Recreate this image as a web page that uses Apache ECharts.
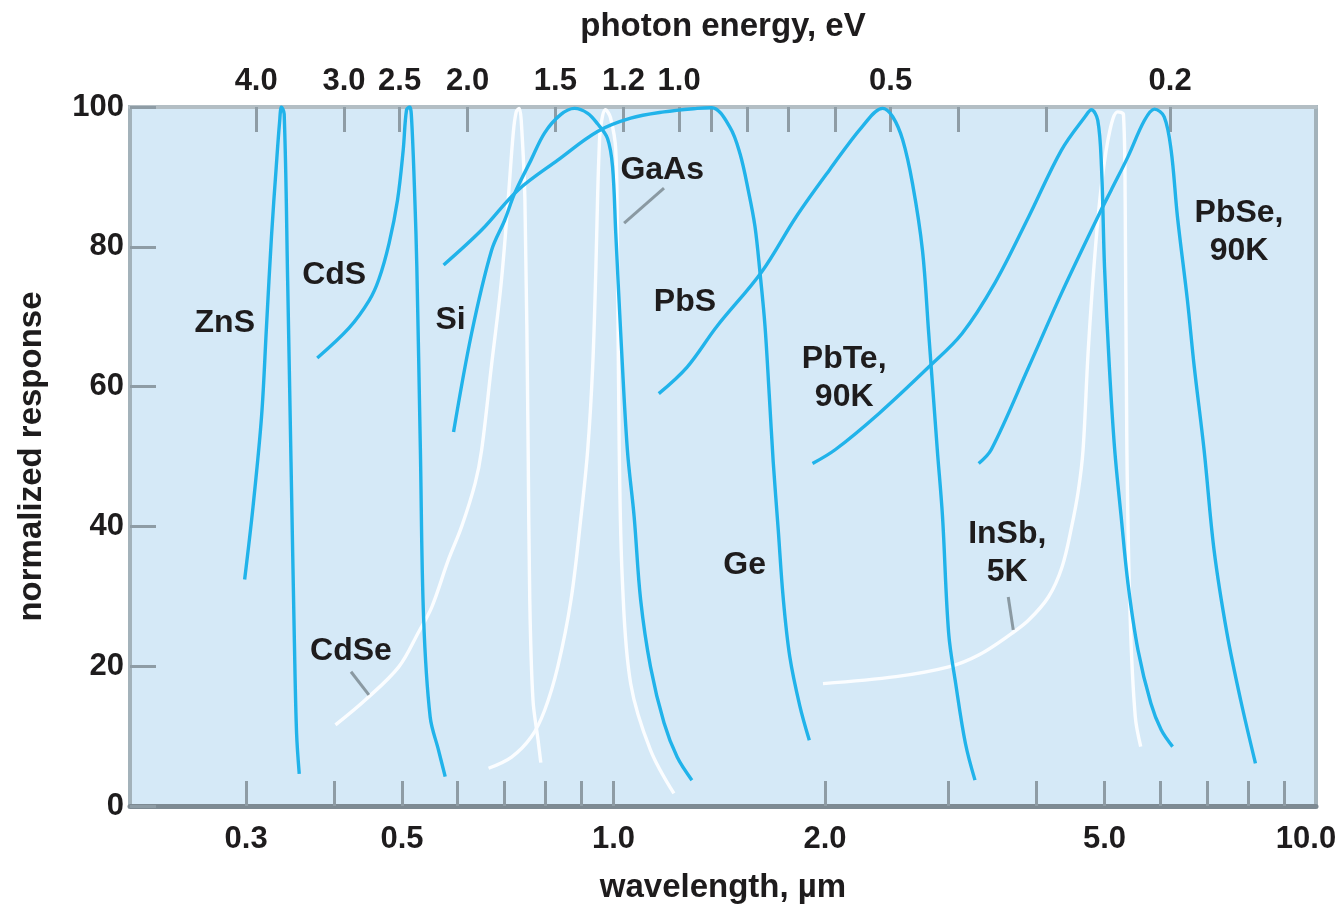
<!DOCTYPE html>
<html>
<head>
<meta charset="utf-8">
<title>Photodetector spectral response</title>
<script src="https://cdn.jsdelivr.net/npm/echarts@6.0.0/dist/echarts.min.js"></script>
<style>
html,body{margin:0;padding:0;background:#fff;}
#chart{width:1343px;height:908px;}
</style>
</head>
<body>
<div id="chart"></div>
<script>
// photon energy (eV) = hc / wavelength (um)
var hc = 1.24;

// axis ticks
var waveTicks = [0.3, 0.4, 0.5, 0.6, 0.7, 0.8, 0.9, 1, 2, 3, 4, 5, 6, 7, 8, 9];
var waveLabels = [0.3, 0.5, 1, 2, 5, 10];
var energyTicks = [4, 3, 2.5, 2, 1.5, 1.2, 1, 0.9, 0.8, 0.7, 0.6, 0.5, 0.4, 0.3, 0.2];
var energyLabels = [4, 3, 2.5, 2, 1.5, 1.2, 1, 0.5, 0.2];

// blue curves (wavelength um / normalized response)
var znsWl = [0.2985, 0.3068, 0.3155, 0.3207, 0.326, 0.331, 0.3347, 0.3368, 0.3398, 0.3437, 0.3475, 0.3514, 0.3539, 0.357];
var znsResp = [32.4, 42.8, 55.7, 68.7, 81.6, 91.3, 97.8, 100, 99, 75.1, 49.2, 23.3, 10.4, 4.6];

var cdsWl = [0.3787, 0.4204, 0.4488, 0.4636, 0.4792, 0.4927, 0.5019, 0.5075, 0.5128, 0.5161, 0.5215, 0.5249, 0.531, 0.5366, 0.5484, 0.5635, 0.576];
var cdsResp = [64.1, 68.4, 72.3, 75.4, 80.5, 86.7, 93.8, 99.6, 100, 98, 86.7, 77, 51, 27, 12.7, 8, 4.2];

var siWl = [0.592, 0.628, 0.6706, 0.70, 0.723, 0.763, 0.798, 0.841, 0.88, 0.919, 0.949, 0.9806, 0.9968, 1.0075, 1.024, 1.0466, 1.07, 1.093, 1.129, 1.18, 1.232, 1.293];
var siResp = [53.5, 67.6, 79.5, 83.8, 87.6, 92.4, 96.3, 98.9, 99.8, 99.1, 97.6, 95.5, 91.5, 81.9, 67.6, 50.9, 41.4, 29.5, 19.9, 11.9, 7, 3.7];

var geWl = [0.573, 0.649, 0.731, 0.833, 0.949, 1.058, 1.18, 1.315, 1.38, 1.465, 1.514, 1.556, 1.59, 1.616, 1.643, 1.666, 1.688, 1.716, 1.744, 1.782, 1.842, 1.9];
var geResp = [77.4, 82.4, 88.1, 92.4, 96.5, 98.4, 99.3, 99.8, 99.9, 97.1, 93.3, 88, 82.9, 76.4, 68.7, 58.9, 49.2, 39.5, 29.8, 21.4, 14.3, 9.4];

var pbsWl = [1.16, 1.273, 1.403, 1.625, 1.82, 2.03, 2.26, 2.416, 2.497, 2.58, 2.665, 2.753, 2.81, 2.89, 2.94, 3.0, 3.07, 3.17, 3.27];
var pbsResp = [59, 62.8, 68.6, 76.4, 84.3, 91, 97.2, 99.8, 98.6, 95.3, 89, 79.5, 67.6, 51, 41.4, 24.7, 17.5, 8.9, 3.7];

var pbteWl = [1.92, 2.07, 2.39, 2.81, 3.135, 3.49, 3.9, 4.34, 4.69, 4.79, 4.89, 4.95, 5.0, 5.08, 5.17, 5.28, 5.40, 5.58, 5.82, 6.02, 6.25];
var pbteResp = [49, 51, 56.2, 62.8, 67.6, 74.8, 84.3, 93.8, 98.6, 99.6, 98.1, 91.5, 77.1, 62.8, 50.9, 41.4, 31.8, 22.3, 14.7, 10.9, 8.5];

var pbseWl = [3.31, 3.45, 3.9, 4.34, 4.92, 5.11, 5.40, 5.70, 5.89, 6.08, 6.22, 6.35, 6.56, 6.71, 6.93, 7.16, 7.47, 7.81, 8.2];
var pbseResp = [49, 51, 62.8, 73.3, 84.8, 88.1, 92.9, 98.1, 99.7, 98.6, 93.8, 84.3, 72.4, 62.8, 50.9, 36.6, 24.7, 15.2, 6.1];

// white curves
var cdseWl = [0.402, 0.4436, 0.4947, 0.528, 0.5514, 0.582, 0.608, 0.6355, 0.649, 0.67, 0.692, 0.708, 0.72, 0.727, 0.734, 0.739, 0.748, 0.756, 0.76, 0.768, 0.781, 0.788];
var cdseResp = [11.6, 15.2, 19.9, 24.9, 28.5, 35.2, 40, 46.2, 50.9, 62.8, 74.8, 86.7, 96.3, 99.3, 99.8, 98.1, 86.7, 51, 29.5, 15.2, 9.4, 6.2];

var gaasWl = [0.664, 0.716, 0.764, 0.798, 0.833, 0.87, 0.899, 0.919, 0.934, 0.944, 0.949, 0.954, 0.959, 0.974, 0.99, 1.0075, 1.013, 1.019, 1.03, 1.058, 1.129, 1.219];
var gaasResp = [5.4, 7, 9.9, 13.7, 19.9, 29.5, 41.4, 51, 62.8, 77.1, 86.7, 93.8, 97.2, 99.6, 98.5, 93.8, 79.5, 51, 31.8, 17.5, 8, 1.8];

var insbWl = [1.987, 2.524, 3.0, 3.31, 3.69, 3.9, 4.16, 4.35, 4.49, 4.59, 4.66, 4.74, 4.85, 4.96, 5.09, 5.22, 5.32, 5.35, 5.38, 5.44, 5.53, 5.63];
var insbResp = [17.5, 18.5, 19.9, 21.6, 24.7, 26.6, 29.9, 34.2, 40, 45.2, 50.9, 65.2, 79.5, 89.6, 96.7, 99.3, 98.9, 86.7, 51, 26.6, 12.8, 8.5];

// curve labels
var noteText = ['ZnS', 'CdS', 'Si', 'GaAs', 'PbS', 'PbTe,\n90K', 'PbSe,\n90K', 'Ge', 'InSb,\n5K', 'CdSe'];
var noteWl = [0.2797, 0.4003, 0.5861, 1.173, 1.264, 2.13, 7.77, 1.537, 3.635, 0.423];
var noteResp = [69.1, 76, 69.5, 91, 72.1, 61.2, 82.1, 34.5, 36.2, 22.2];

// leader lines from labels to curves
var leaderWl = [[0.423, 0.4485], [1.18, 1.0355], [3.647, 3.707]];
var leaderResp = [[19.2, 15.9], [88.4, 83.4], [29.9, 25.2]];

var blue = '#21b3ea';
var white = '#fbfdff';
var ink = '#1e1c1d';
var font = '"Liberation Sans", Arial, Helvetica, sans-serif';

function pairs(xs, ys) {
	return xs.map(function (x, i) { return [x, ys[i]]; });
}

var curves = [
	{ name: 'CdSe', wl: cdseWl, resp: cdseResp, color: white },
	{ name: 'GaAs', wl: gaasWl, resp: gaasResp, color: white },
	{ name: 'InSb', wl: insbWl, resp: insbResp, color: white },
	{ name: 'ZnS', wl: znsWl, resp: znsResp, color: blue },
	{ name: 'CdS', wl: cdsWl, resp: cdsResp, color: blue },
	{ name: 'Si', wl: siWl, resp: siResp, color: blue },
	{ name: 'Ge', wl: geWl, resp: geResp, color: blue },
	{ name: 'PbS', wl: pbsWl, resp: pbsResp, color: blue },
	{ name: 'PbTe', wl: pbteWl, resp: pbteResp, color: blue },
	{ name: 'PbSe', wl: pbseWl, resp: pbseResp, color: blue }
];

var series = curves.map(function (c) {
	return {
		type: 'line',
		name: c.name,
		data: pairs(c.wl, c.resp),
		showSymbol: false,
		smooth: 0.35,
		silent: true,
		z: c.color === blue ? 3 : 2,
		lineStyle: { color: c.color, width: 3.4 }
	};
});

leaderWl.forEach(function (xs, i) {
	series.push({
		type: 'line',
		data: pairs(xs, leaderResp[i]),
		showSymbol: false,
		silent: true,
		z: 4,
		lineStyle: { color: '#8a99a2', width: 3 }
	});
});

series.push({
	type: 'scatter',
	symbolSize: 0,
	silent: true,
	z: 5,
	itemStyle: { opacity: 1 },
	data: noteText.map(function (t, i) {
		return { name: t, value: [noteWl[i], noteResp[i]] };
	}),
	label: {
		show: true,
		position: 'inside',
		formatter: '{b}',
		fontFamily: font,
		fontSize: 32,
		fontWeight: 'bold',
		lineHeight: 38,
		color: ink,
		opacity: 1,
		textBorderWidth: 0
	}
});

var tickStyle = { color: '#8e9ca5', width: 3 };
var labelStyle = { fontFamily: font, fontSize: 31, fontWeight: 'bold', color: ink };
var nameStyle = { fontFamily: font, fontSize: 33, fontWeight: 'bold', color: ink };

var myChart = echarts.init(document.getElementById('chart'));
var option = {
	animation: false,
	backgroundColor: '#ffffff',
	grid: {
		left: 130, right: 27, top: 107, bottom: 102,
		containLabel: false,
		outerBoundsMode: 'none',
		show: true,
		backgroundColor: '#d5e9f7',
		borderColor: '#a3b2ba',
		borderWidth: 4
	},
	xAxis: [
		{
			type: 'log',
			logBase: 10,
			min: 0.205,
			max: 10,
			position: 'bottom',
			name: 'wavelength, \u00b5m',
			nameLocation: 'middle',
			nameGap: 65,
			nameTextStyle: nameStyle,
			axisLine: { lineStyle: { color: '#7d8a93', width: 5 } },
			axisTick: { inside: true, length: 25, lineStyle: tickStyle, customValues: waveTicks },
			minorTick: { show: false },
			splitLine: { show: false },
			axisLabel: Object.assign({
				customValues: waveLabels,
				margin: 18,
				formatter: function (v) {
					var s = (+v).toFixed(1);
					// last label sits at the frame edge, nudged left as in the original
					return v >= 9.99 ? '{edge|' + s + '}' : s;
				},
				rich: { edge: Object.assign({ padding: [0, 20, 0, 0] }, labelStyle) }
			}, labelStyle)
		},
		{
			type: 'log',
			logBase: 10,
			min: 0.205,
			max: 10,
			position: 'top',
			name: 'photon energy, eV',
			nameLocation: 'middle',
			nameGap: 64,
			nameTextStyle: nameStyle,
			axisLine: { lineStyle: { color: '#b3bec4', width: 4 } },
			axisTick: {
				inside: true, length: 25, lineStyle: tickStyle,
				customValues: energyTicks.map(function (e) { return hc / e; })
			},
			minorTick: { show: false },
			splitLine: { show: false },
			axisLabel: Object.assign({
				customValues: energyLabels.map(function (e) { return hc / e; }),
				margin: 10,
				formatter: function (v) { return (hc / v).toFixed(1); }
			}, labelStyle)
		}
	],
	yAxis: {
		type: 'value',
		min: 0,
		max: 100,
		interval: 20,
		name: 'normalized response',
		nameLocation: 'middle',
		nameGap: 82,
		nameRotate: 90,
		nameTextStyle: nameStyle,
		axisLine: { show: true, lineStyle: { color: '#a3b2ba', width: 4 } },
		axisTick: { inside: true, length: 26, lineStyle: tickStyle },
		splitLine: { show: false },
		axisLabel: Object.assign({ margin: 6 }, labelStyle)
	},
	series: series
};
myChart.setOption(option);
</script>
</body>
</html>
